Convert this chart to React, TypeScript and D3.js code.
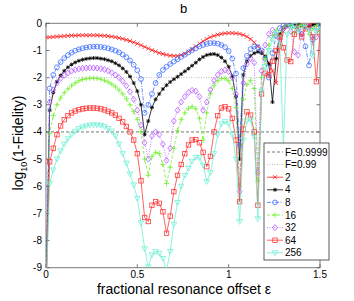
import * as d3 from "d3";

// offsets along x (fractional resonance offset)
const EPSILON = [
  0, 0.02, 0.04, 0.06, 0.08, 0.1, 0.12, 0.14, 0.16, 0.18, 0.2, 0.22, 0.24, 0.26, 0.28, 0.3, 0.32, 0.34, 0.36,
  0.38, 0.4, 0.42, 0.44, 0.46, 0.48, 0.5, 0.52, 0.54, 0.56, 0.58, 0.6, 0.62, 0.64, 0.66, 0.68, 0.7, 0.72, 0.74,
  0.76, 0.78, 0.8, 0.82, 0.84, 0.86, 0.88, 0.9, 0.92, 0.94, 0.96, 0.98, 1.0, 1.02, 1.04, 1.06, 1.08, 1.1, 1.12,
  1.14, 1.16, 1.18, 1.2, 1.22, 1.24, 1.26, 1.28, 1.3, 1.32, 1.34, 1.36, 1.38, 1.4, 1.42, 1.44, 1.46, 1.48, 1.5,
];

// log10(1 - Fidelity) per pulse count
const N2 = [
  -0.52, -0.51, -0.5, -0.49, -0.48, -0.47, -0.46, -0.45, -0.45, -0.44, -0.44, -0.44, -0.44, -0.44, -0.44, -0.45,
  -0.46, -0.47, -0.49, -0.51, -0.54, -0.57, -0.61, -0.65, -0.7, -0.75, -0.81, -0.87, -0.93, -0.99, -1.04, -1.09,
  -1.13, -1.16, -1.19, -1.2, -1.2, -1.17, -1.12, -1.04, -0.95, -0.85, -0.75, -0.66, -0.58, -0.51, -0.46, -0.42,
  -0.39, -0.37, -0.36, -0.36, -0.37, -0.39, -0.43, -0.49, -0.58, -0.7, -0.85, -1.02, -1.22, -1.45, -1.75, -2.2,
  -0.9, -0.3, -0.12, -0.06, -0.05, -0.04, -0.05, -0.07, -0.05, -0.04, -0.05, -0.04,
];
const N4 = [
  -10, -3.2, -2.55, -2.15, -1.92, -1.75, -1.62, -1.52, -1.44, -1.38, -1.34, -1.31, -1.29, -1.28, -1.28, -1.3,
  -1.32, -1.36, -1.4, -1.47, -1.55, -1.66, -1.79, -1.96, -2.2, -2.5, -3.0, -4.1, -3.6, -3.1, -2.8, -2.6, -2.42,
  -2.28, -2.16, -2.06, -1.97, -1.87, -1.77, -1.67, -1.56, -1.45, -1.33, -1.24, -1.17, -1.14, -1.13, -1.17, -1.26,
  -1.4, -1.6, -1.95, -2.7, -5.0, -1.9, -1.4, -1.2, -1.1, -1.05, -1.1, -1.22, -1.5, -2.9, -1.3, -0.4, -0.15, -0.08,
  -0.05, -0.04, -0.05, -0.08, -0.15, -0.12, -0.06, -0.04, -0.03,
];
const N8 = [
  -10, -2.4, -1.9, -1.62, -1.43, -1.28, -1.17, -1.08, -1.01, -0.96, -0.92, -0.89, -0.87, -0.86, -0.86, -0.87,
  -0.89, -0.92, -0.96, -1.01, -1.07, -1.15, -1.25, -1.37, -1.53, -1.73, -2.05, -3.3, -3.0, -2.6, -2.2, -1.9, -1.72,
  -1.6, -1.5, -1.41, -1.33, -1.24, -1.16, -1.07, -0.99, -0.92, -0.85, -0.8, -0.76, -0.73, -0.73, -0.75, -0.8,
  -0.88, -1.02, -1.3, -1.85, -4.5, -1.65, -1.2, -0.95, -0.86, -0.88, -1.0, -1.3, -2.0, -1.1, -0.45, -0.18, -0.08,
  -0.05, -0.06, -0.1, -0.2, -0.4, -0.85, -1.55, -0.6, -0.15, -0.05,
];
const N16 = [
  -10, -4.05, -3.4, -3.0, -2.75, -2.56, -2.42, -2.3, -2.2, -2.12, -2.07, -2.04, -2.02, -2.02, -2.03, -2.06, -2.1,
  -2.16, -2.24, -2.34, -2.46, -2.6, -2.78, -3.0, -3.25, -3.55, -4.0, -5.0, -5.6, -4.9, -4.75, -4.8, -5.2, -5.9,
  -5.3, -4.6, -3.95, -3.55, -3.3, -3.13, -3.07, -3.15, -3.5, -4.3, -3.3, -2.6, -2.3, -2.12, -2.03, -2.03, -2.12,
  -2.4, -3.1, -6.0, -2.8, -2.25, -2.1, -2.4, -5.8, -2.0, -1.3, -0.8, -0.45, -0.25, -0.5, -0.15, -0.06, -0.1,
  -0.35, -0.12, -0.05, -0.1, -0.4, -0.2, -0.08, -0.3,
];
const N32 = [
  -10, -2.9, -2.45, -2.2, -2.03, -1.92, -1.83, -1.76, -1.71, -1.68, -1.66, -1.65, -1.64, -1.64, -1.65, -1.67, -1.7,
  -1.75, -1.82, -1.9, -2.0, -2.13, -2.3, -2.52, -2.8, -3.2, -3.75, -4.4, -5.0, -4.15, -4.0, -4.1, -4.45, -5.05,
  -4.6, -3.6, -3.2, -2.9, -2.7, -2.55, -2.47, -2.5, -2.7, -3.2, -2.9, -2.45, -2.1, -1.9, -1.77, -1.72, -1.78,
  -2.0, -2.6, -6.2, -2.2, -1.5, -1.3, -1.45, -5.5, -1.75, -0.8, -0.4, -0.25, -0.45, -0.6, -0.2, -0.08, -0.3,
  -1.05, -1.17, -0.4, -0.1, -0.15, -0.6, -0.5, -0.1,
];
const N64 = [
  -10, -5.1, -4.6, -4.1, -3.78, -3.55, -3.4, -3.3, -3.23, -3.18, -3.15, -3.13, -3.12, -3.12, -3.13, -3.15, -3.19,
  -3.24, -3.3, -3.38, -3.5, -3.63, -3.8, -4.0, -4.3, -4.8, -5.8, -7.15, -7.3, -6.7, -6.57, -6.63, -6.94, -7.73,
  -7.1, -6.2, -5.6, -5.2, -4.8, -4.48, -4.3, -4.28, -4.4, -4.75, -5.28, -4.9, -4.0, -3.4, -3.12, -3.07, -3.15,
  -3.5, -4.3, -6.57, -3.9, -3.26, -3.38, -4.0, -6.7, -2.6, -1.84, -1.9, -1.4, -1.0, -0.5, -0.9, -1.35, -1.41,
  -0.4, -0.15, -0.5, -0.2, -0.08, -0.5, -2.15, -0.35,
];
const N256 = [
  -10, -5.9, -5.4, -5.0, -4.7, -4.45, -4.25, -4.1, -3.98, -3.88, -3.82, -3.78, -3.75, -3.74, -3.74, -3.76, -3.8,
  -3.87, -3.97, -4.15, -4.45, -4.8, -5.15, -5.55, -5.95, -6.45, -7.35, -8.3, -8.97, -8.53, -8.41, -8.47, -8.66,
  -9.1, -8.4, -7.4, -6.6, -6.0, -5.6, -5.34, -5.08, -4.93, -4.95, -5.22, -5.83, -5.5, -4.8, -4.1, -3.7, -3.62,
  -3.7, -4.1, -5.0, -7.3, -4.3, -3.6, -3.55, -4.2, -7.2, -2.5, -1.6, -1.0, -0.6, -0.35, -0.8, -4.6, -0.4, -0.12,
  -0.08, -0.3, -0.15, -0.06, -0.25, -1.2, -0.3, -0.1,
];

const Y_TICKS = [0, -1, -2, -3, -4, -5, -6, -7, -8, -9];
const X_TICKS = [0, 0.5, 1, 1.5];
const THRESHOLDS = [
  { label: "F=0.9999", value: -4 },
  { label: "F=0.99", value: -2 },
];

const SERIES = [
  { label: "2", values: N2, color: "#ff1a1a", marker: "x", dash: "" },
  { label: "4", values: N4, color: "#000000", marker: "star", dash: "" },
  { label: "8", values: N8, color: "#3f6fff", marker: "circle", dash: "4 1.5 1 1.5" },
  { label: "16", values: N16, color: "#6cf02a", marker: "plus", dash: "3 2" },
  { label: "32", values: N32, color: "#b85cff", marker: "diamond", dash: "1 1.5" },
  { label: "64", values: N64, color: "#ff3a3a", marker: "square", dash: "" },
  { label: "256", values: N256, color: "#6ff0d4", marker: "tri", dash: "" },
];

const W = 354;
const H = 301;
const X0 = 46;
const X1 = 320;
const Y0 = 23.3;
const Y1 = 267.7;
const FONT = "'Liberation Sans', Arial, Helvetica, sans-serif";

function Marker({ kind, x, y, color }: { kind: string; x: number; y: number; color: string }) {
  const sw = 0.8;
  switch (kind) {
    case "x":
      return (
        <path d={`M${x - 2},${y - 2}L${x + 2},${y + 2}M${x - 2},${y + 2}L${x + 2},${y - 2}`} stroke={color} strokeWidth={sw} fill="none" />
      );
    case "star":
      return (
        <path
          d={`M${x - 2},${y}L${x + 2},${y}M${x},${y - 2}L${x},${y + 2}M${x - 1.5},${y - 1.5}L${x + 1.5},${y + 1.5}M${x - 1.5},${y + 1.5}L${x + 1.5},${y - 1.5}`}
          stroke={color}
          strokeWidth={sw}
          fill="none"
        />
      );
    case "circle":
      return <circle cx={x} cy={y} r={2.4} stroke={color} strokeWidth={sw} fill="none" />;
    case "plus":
      return <path d={`M${x - 2.6},${y}L${x + 2.6},${y}M${x},${y - 2.6}L${x},${y + 2.6}`} stroke={color} strokeWidth={sw} fill="none" />;
    case "diamond":
      return <path d={`M${x},${y - 3}L${x + 2.4},${y}L${x},${y + 3}L${x - 2.4},${y}Z`} stroke={color} strokeWidth={sw} fill="none" />;
    case "square":
      return <rect x={x - 2.2} y={y - 2.2} width={4.4} height={4.4} stroke={color} strokeWidth={sw} fill="none" />;
    case "tri":
      return <path d={`M${x - 2.8},${y - 2}L${x + 2.8},${y - 2}L${x},${y + 2.8}Z`} stroke={color} strokeWidth={sw} fill="none" />;
    default:
      return null;
  }
}

export default function App() {
  const x = d3.scaleLinear().domain([0, 1.5]).range([X0, X1]);
  const y = d3.scaleLinear().domain([-9, 0]).range([Y1, Y0]);

  const line = d3
    .line<number>()
    .x((_, i) => x(EPSILON[i]))
    .y((d) => y(d));

  const legendX = 264;
  const legendY = 143;
  const rowH = 12.6;
  const legendRows = [
    ...THRESHOLDS.map((t, i) => ({
      label: t.label,
      color: i === 0 ? "#555" : "#aaa",
      dash: i === 0 ? "3 2" : "1 1.5",
      marker: "",
    })),
    ...SERIES.map((s) => ({ label: s.label, color: s.color, dash: s.dash, marker: s.marker })),
  ];

  return (
    <svg
      width={W}
      height={H}
      style={{ position: "fixed", left: 0, top: 0, background: "#fff" }}
      fontFamily={FONT}
    >
      <defs>
        <clipPath id="plot-clip">
          <rect x={X0} y={Y0} width={X1 - X0} height={Y1 - Y0} />
        </clipPath>
      </defs>
      <rect x={0} y={0} width={W} height={H} fill="#fff" />

      <text x={183.5} y={13} textAnchor="middle" fontSize={13}>
        b
      </text>

      {/* axes box and ticks */}
      <rect x={X0} y={Y0} width={X1 - X0} height={Y1 - Y0} fill="none" stroke="#7a7a7a" strokeWidth={1} />
      {Y_TICKS.map((t) => (
        <g key={`y${t}`}>
          <line x1={X0} x2={X0 + 3.5} y1={y(t)} y2={y(t)} stroke="#555" strokeWidth={0.8} />
          <line x1={X1 - 3.5} x2={X1} y1={y(t)} y2={y(t)} stroke="#555" strokeWidth={0.8} />
          <text x={X0 - 4} y={y(t) + 3.5} textAnchor="end" fontSize={10}>
            {String(t)}
          </text>
        </g>
      ))}
      {X_TICKS.map((t) => (
        <g key={`x${t}`}>
          <line x1={x(t)} x2={x(t)} y1={Y1} y2={Y1 - 3.5} stroke="#555" strokeWidth={0.8} />
          <line x1={x(t)} x2={x(t)} y1={Y0} y2={Y0 + 3.5} stroke="#555" strokeWidth={0.8} />
          <text x={x(t)} y={Y1 + 9.8} textAnchor="middle" fontSize={10}>
            {String(t)}
          </text>
        </g>
      ))}

      <g clipPath="url(#plot-clip)">
        <line x1={X0} x2={X1} y1={y(-4)} y2={y(-4)} stroke="#555" strokeWidth={0.8} strokeDasharray="3 2" />
        <line x1={X0} x2={X1} y1={y(-2)} y2={y(-2)} stroke="#aaa" strokeWidth={0.8} strokeDasharray="1 1.5" />
        {SERIES.map((s) => (
          <g key={s.label}>
            <path d={line(s.values) ?? ""} fill="none" stroke={s.color} strokeWidth={0.8} strokeDasharray={s.dash || undefined} />
            {s.values.map((v, i) => (
              <Marker key={i} kind={s.marker} x={x(EPSILON[i])} y={y(v)} color={s.color} />
            ))}
          </g>
        ))}
      </g>

      {/* axis labels */}
      <text x={184} y={293.5} textAnchor="middle" fontSize={14}>
        fractional resonance offset ε
      </text>
      <text transform="translate(23,143) rotate(-90)" textAnchor="middle" fontSize={14}>
        log
        <tspan fontSize={9} dy={4}>
          10
        </tspan>
        <tspan dy={-4}>(1-Fidelity)</tspan>
      </text>

      {/* legend */}
      <rect x={legendX} y={legendY} width={65} height={117} fill="#fff" stroke="#333" strokeWidth={0.8} />
      {legendRows.map((r, i) => {
        const cy = legendY + 9 + i * rowH;
        return (
          <g key={r.label}>
            <line x1={legendX + 3} x2={legendX + 19} y1={cy} y2={cy} stroke={r.color} strokeWidth={0.8} strokeDasharray={r.dash || undefined} />
            {r.marker && <Marker kind={r.marker} x={legendX + 11} y={cy} color={r.color} />}
            <text x={legendX + 21} y={cy + 3.6} fontSize={10}>
              {r.label}
            </text>
          </g>
        );
      })}
    </svg>
  );
}
